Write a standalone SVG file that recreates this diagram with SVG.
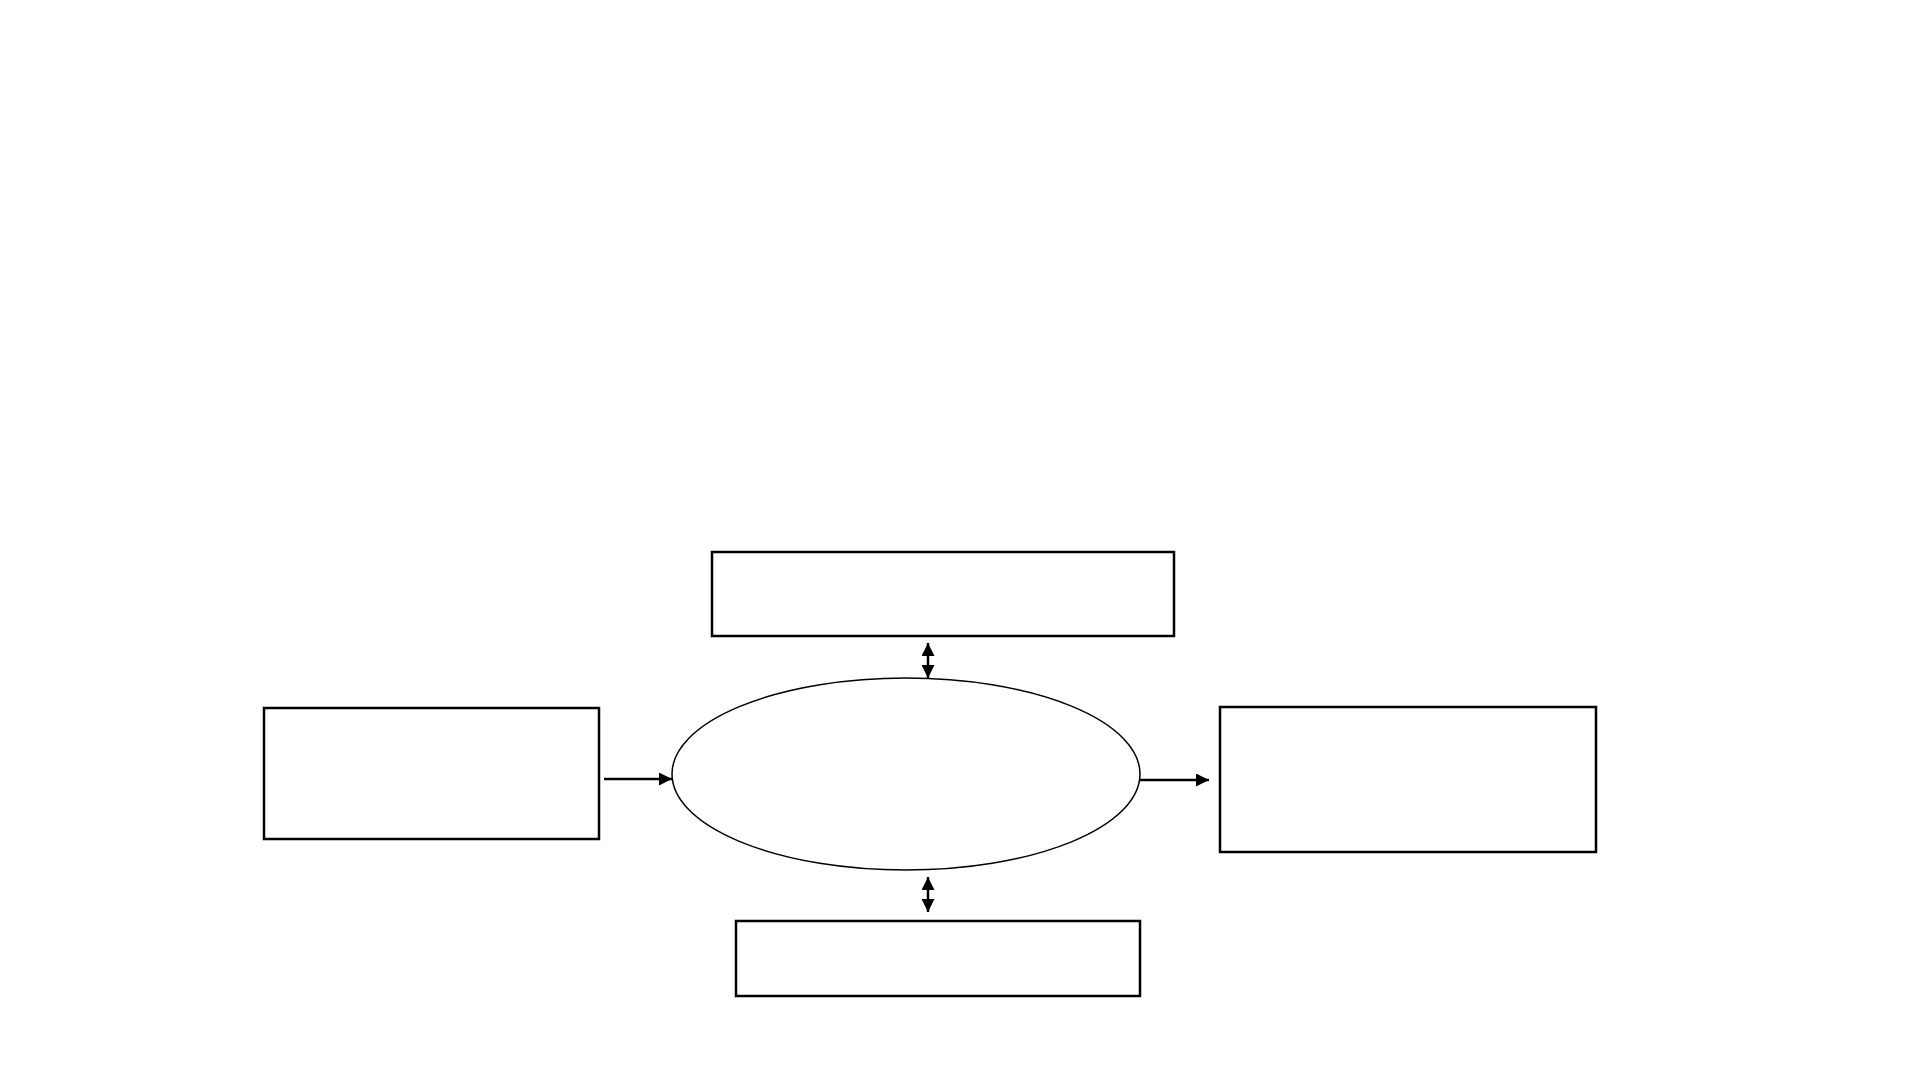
<svg xmlns="http://www.w3.org/2000/svg" width="1921" height="1081" viewBox="0 0 1921 1081">
<style>
.box{fill:#fff;stroke:#000;stroke-width:2.5}
.ell{fill:#fff;stroke:#000;stroke-width:1.5}
.con{fill:none;stroke:#000;stroke-width:2.5}
</style>
<defs>
<marker id="ah" viewBox="0 0 13 13" refX="13" refY="6.5" markerWidth="13" markerHeight="13" markerUnits="userSpaceOnUse" orient="auto-start-reverse">
<path d="M0,0 L13,6.5 L0,13 Z" fill="#000"/>
</marker>
</defs>
<rect width="1921" height="1081" fill="#fff"/>
<g id="top-box"><rect class="box" x="712" y="552" width="462" height="84"/></g>
<g id="left-box"><rect class="box" x="264" y="708" width="335" height="131"/></g>
<g id="right-box"><rect class="box" x="1220" y="707" width="376" height="145"/></g>
<g id="bottom-box"><rect class="box" x="736" y="921" width="404" height="75"/></g>
<g id="center-ellipse"><ellipse class="ell" cx="906" cy="774" rx="234" ry="96"/></g>
<g id="connectors">
<line class="con" x1="928" y1="643" x2="928" y2="678" marker-start="url(#ah)" marker-end="url(#ah)"/>
<line class="con" x1="604" y1="779" x2="672" y2="779" marker-end="url(#ah)"/>
<line class="con" x1="1140" y1="780" x2="1209" y2="780" marker-end="url(#ah)"/>
<line class="con" x1="928" y1="877" x2="928" y2="912" marker-start="url(#ah)" marker-end="url(#ah)"/>
</g>
</svg>
